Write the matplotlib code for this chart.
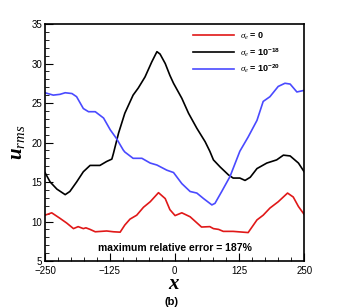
import numpy as np
import matplotlib
matplotlib.use('Agg')
import matplotlib.pyplot as plt
from matplotlib.ticker import MultipleLocator

plt.rcParams['font.family'] = ['Liberation Sans', 'DejaVu Sans']
plt.rcParams['mathtext.fontset'] = 'custom'
plt.rcParams['mathtext.rm'] = 'Liberation Sans'
plt.rcParams['mathtext.bf'] = 'Liberation Sans:bold'
plt.rcParams['mathtext.it'] = 'Liberation Serif:italic'
plt.rcParams['mathtext.bfit'] = 'Liberation Serif:bold:italic'

# sigma_e = 0
x_red = [-250, -237, -221, -208, -195, -186, -176, -171, -163, -153, -131, -118, -105, -96, -86,
         -73, -60, -47, -31, -18, -9, 1, 14, 30, 52, 68, 75, 85, 94, 113, 142, 159, 171, 184,
         200, 218, 229, 239, 250]
u_red = [10.8, 11.1, 10.4, 9.8, 9.1, 9.35, 9.1, 9.2, 9.0, 8.7, 8.8, 8.7, 8.65, 9.55, 10.3,
         10.8, 11.8, 12.5, 13.65, 12.9, 11.5, 10.75, 11.1, 10.6, 9.3, 9.35, 9.1, 9.0, 8.75, 8.75,
         8.6, 10.2, 10.8, 11.7, 12.5, 13.6, 13.1, 11.9, 10.9]

# sigma_e = 1e-18
x_black = [-250, -240, -227, -211, -202, -189, -176, -163, -144, -131, -121, -118, -108, -96,
           -80, -70, -57, -44, -34, -28, -18, -9, -2, 14, 27, 43, 59, 68, 75, 88, 104, 113, 126,
           136, 146, 159, 178, 197, 210, 223, 239, 250]
u_black = [16.2, 15.0, 14.1, 13.4, 13.8, 15.0, 16.3, 17.1, 17.1, 17.6, 17.9, 18.6, 21.2, 23.7,
           26.0, 26.9, 28.3, 30.2, 31.5, 31.2, 30.0, 28.5, 27.5, 25.6, 23.7, 21.8, 20.1, 18.9,
           17.8, 16.9, 15.9, 15.5, 15.5, 15.2, 15.6, 16.7, 17.4, 17.8, 18.4, 18.3, 17.4, 16.3]

# sigma_e = 1e-20
x_blue = [-250, -234, -221, -211, -198, -189, -176, -166, -153, -137, -124, -112, -99, -96, -80,
          -63, -47, -34, -15, -2, 14, 30, 43, 56, 72, 78, 91, 107, 126, 142, 159, 171, 184, 200,
          213, 223, 236, 250]
u_blue = [26.3, 26.0, 26.1, 26.3, 26.2, 25.8, 24.3, 23.9, 23.9, 23.1, 21.6, 20.5, 19.05, 18.8,
          18.0, 18.0, 17.4, 17.15, 16.5, 16.2, 14.8, 13.8, 13.6, 12.9, 12.1, 12.3, 13.8, 15.7,
          18.9, 20.7, 22.8, 25.2, 25.8, 27.1, 27.5, 27.4, 26.4, 26.6]

labels = [r'$\sigma_{\mathit{e}}\,\mathbf{=\,0}$',
          r'$\sigma_{\mathit{e}}\,\mathbf{=\,10^{-18}}$',
          r'$\sigma_{\mathit{e}}\,\mathbf{=\,10^{-20}}$']

fig = plt.figure(figsize=(3.46, 3.08), dpi=100)
ax = fig.add_axes([0.130, 0.1526, 0.749, 0.7694])

ax.plot(x_red, u_red, color='#e01818', lw=1.2, label=labels[0])
ax.plot(x_black, u_black, color='black', lw=1.2, label=labels[1])
ax.plot(x_blue, u_blue, color='#4a4aff', lw=1.2, label=labels[2])

ax.set_xlim(-250, 250)
ax.set_ylim(5, 35)
ax.set_xticks([-250, -125, 0, 125, 250])
ax.set_yticks([5, 10, 15, 20, 25, 30, 35])
ax.xaxis.set_minor_locator(MultipleLocator(25))
ax.yaxis.set_minor_locator(MultipleLocator(1))
ax.tick_params(which='both', direction='in', labelsize=7)
ax.tick_params(axis='x', pad=3.5)
ax.tick_params(axis='y', pad=2)
ax.tick_params(which='major', length=6, width=0.8)
ax.tick_params(which='minor', length=3, width=0.6)
for s in ax.spines.values():
    s.set_linewidth(1.2)

ax.set_xlabel(r'$\mathbfit{x}$', fontsize=15, labelpad=-1)
ax.set_ylabel(r'$\mathbfit{u}_{rms}$', fontsize=15, labelpad=3)

ax.text(1, 6.6, 'maximum relative error = 187%', ha='center', va='center',
        fontsize=7.5, weight='bold')

leg = ax.legend(loc='upper left', bbox_to_anchor=(0.545, 1.0), fontsize=6.5, frameon=False,
                handlelength=4.6, handletextpad=0.7, borderaxespad=0.3, labelspacing=0.45)

fig.text(0.495, 0.02, '(b)', ha='center', va='center', fontsize=8, weight='bold')

fig.savefig('out.png', dpi=100)
